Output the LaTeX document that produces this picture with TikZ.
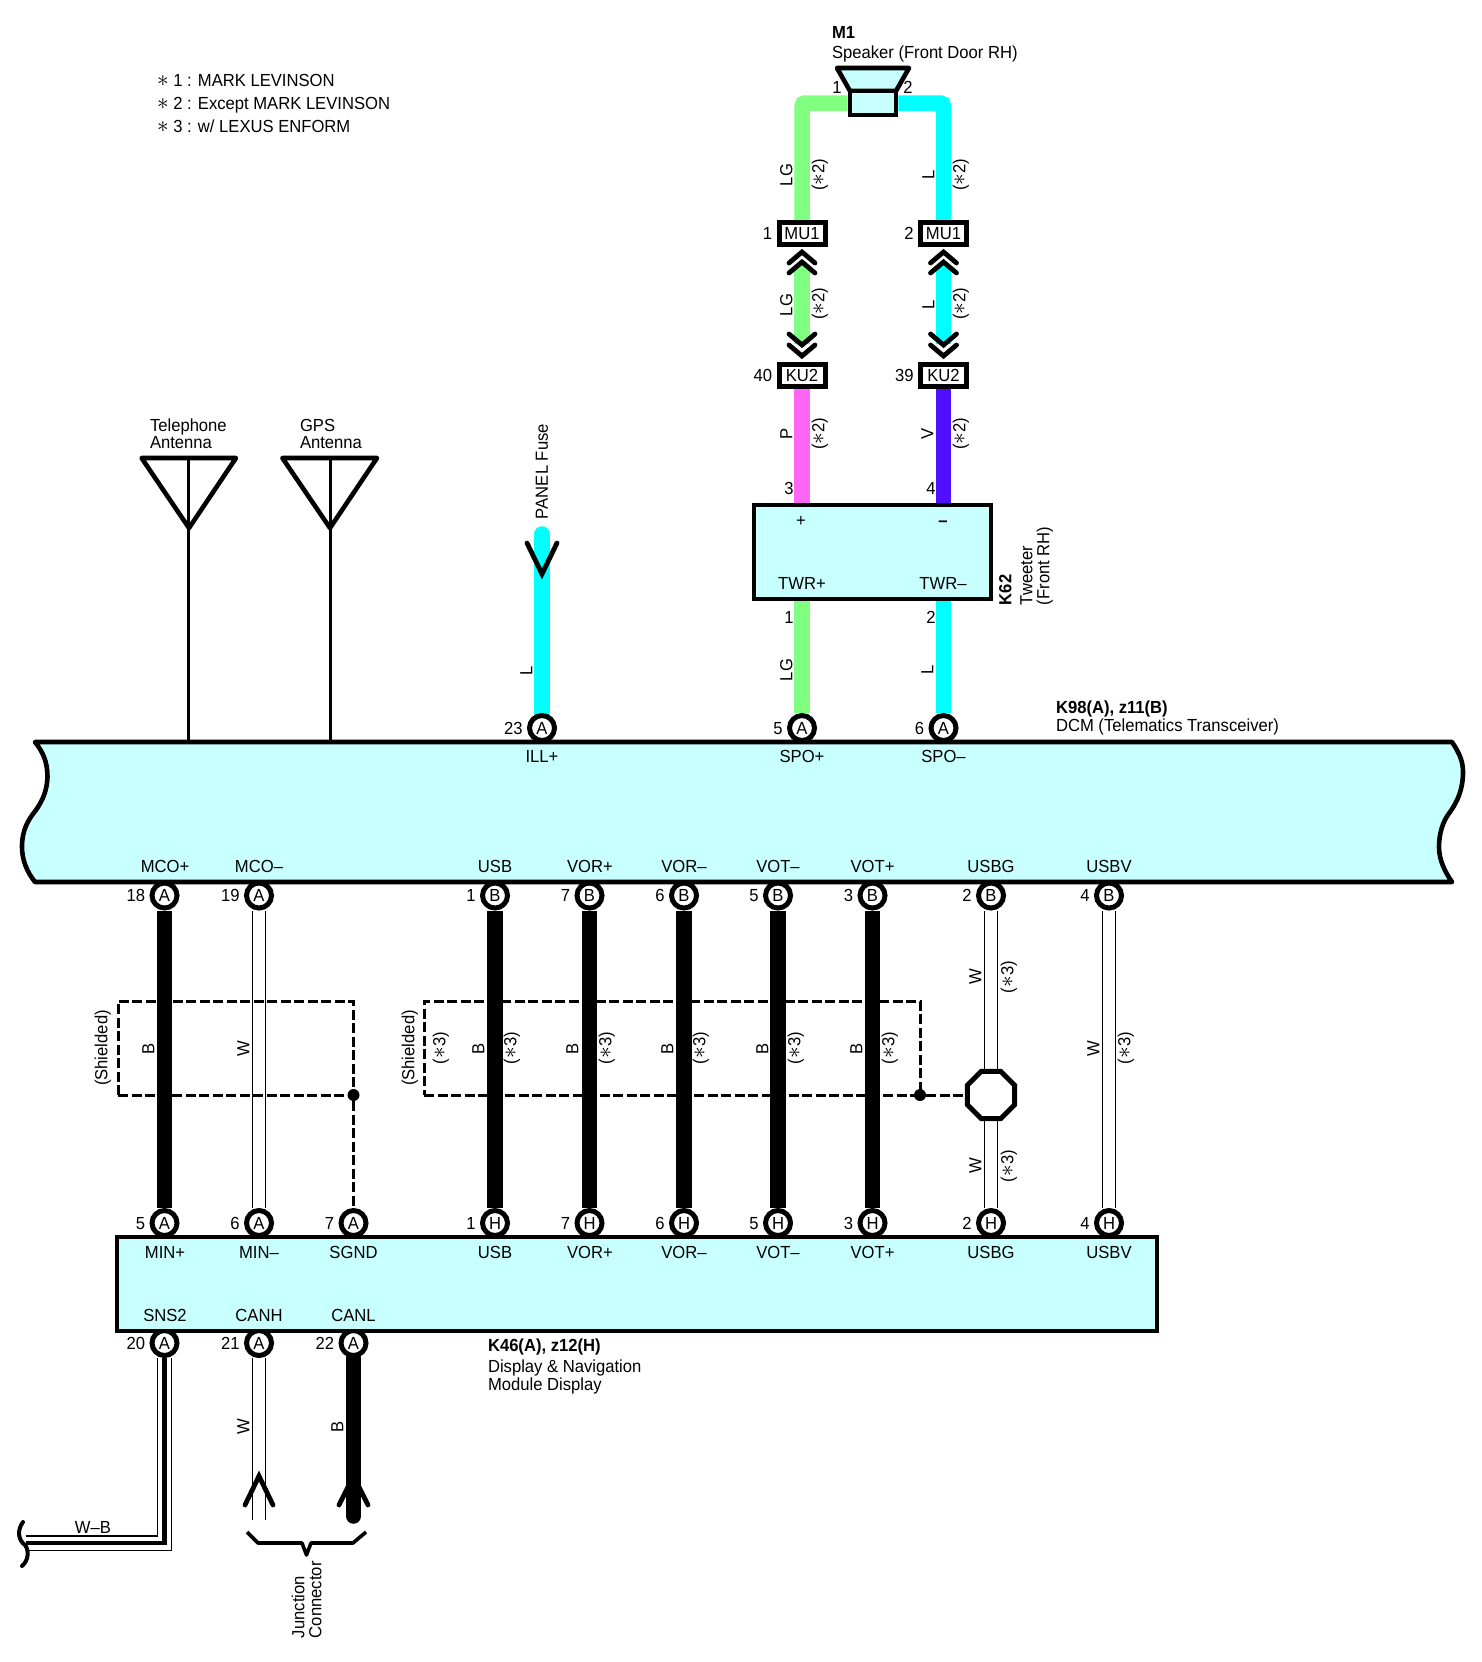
\documentclass[tikz,border=0pt]{standalone}
\usepackage{fontspec}
\usepackage{graphicx}
\setmainfont[FakeStretch=0.95]{Liberation Sans}
\usetikzlibrary{shapes.geometric,backgrounds}
\definecolor{modfill}{HTML}{C8FFFF}
\definecolor{wireLG}{HTML}{80FF80}
\definecolor{wireL}{HTML}{00FFFF}
\definecolor{wireP}{HTML}{FF66F5}
\definecolor{wireV}{HTML}{5010FF}
\newcommand\wfont{\fontsize{17.5pt}{19pt}\selectfont}
\newcommand\st{\scalebox{1.35}{\ensuremath{\ast}}}
\newcounter{labn}
\tikzset{
  txt/.style={font=\wfont,inner sep=0pt,outer sep=0pt,text height=12.5pt,text depth=0pt,align=left},
  pinnode/.style={circle,draw=black,fill=white,line width=5pt,minimum size=25pt,inner sep=0pt,font=\wfont,text height=12.5pt,text depth=0pt},
  modbox/.style={rectangle,draw=black,fill=modfill,line width=4.6pt,inner sep=0pt},
  conbox/.style={rectangle,draw=black,fill=white,line width=5pt,inner sep=0pt,minimum width=46pt,minimum height=22pt,font=\wfont,text height=12.5pt,text depth=0pt},
  shieldbox/.style={rectangle,draw=black,line width=3pt,dash pattern=on 10pt off 3.5pt,inner sep=0pt},
  shieldline/.style={draw=black,line width=3pt,dash pattern=on 10pt off 3.5pt},
  jdot/.style={circle,fill=black,minimum size=12pt,inner sep=0pt},
  colwire/.style={line width=15.5pt,rounded corners=3pt,color=#1},
  blackwire/.style={line width=15.5pt,color=black},
  whitewire/.style={line width=1.3pt,double=white,double distance=11.8pt,color=black},
  chev/.style={draw=black,line width=4.8pt,line cap=round,line join=miter},
  thickline/.style={draw=black,line width=4.6pt,line join=round},
  antline/.style={draw=black,line width=3pt},
}
\newcommand\wpin[5]{%
  \node[pinnode] (#1) at (#2,#3) {#4};
  \node[txt,anchor=east] (#1n) at ([xshift=-19.5pt]#1.center) {#5};}
\newcommand\lab[3]{\stepcounter{labn}\node[txt] (t\thelabn) at (#1,#2) {#3};}
\newcommand\llab[3]{\stepcounter{labn}\node[txt,anchor=west] (t\thelabn) at (#1,#2) {#3};}
\newcommand\rlab[3]{\stepcounter{labn}\node[txt,rotate=90] (t\thelabn) at (#1,#2) {#3};}
\newcommand\rblab[3]{\stepcounter{labn}\node[txt,rotate=90,anchor=west] (t\thelabn) at (#1,#2) {#3};}
\newcommand\chevup[2]{\draw[chev] (#1-13,#2+11) -- (#1,#2) -- (#1+13,#2+11);}
\newcommand\chevdn[2]{\draw[chev] (#1-13,#2-11) -- (#1,#2) -- (#1+13,#2-11);}
\begin{document}
\begin{tikzpicture}[x=1pt,y=-1pt]
\useasboundingbox (0,0) rectangle (1482,1662);
% legend
\llab{157}{80}{\st\ 1 : MARK LEVINSON}
\llab{157}{103}{\st\ 2 : Except MARK LEVINSON}
\llab{157}{126}{\st\ 3 : w/ LEXUS ENFORM}
% speaker
\llab{832}{32}{\textbf{M1}}
\llab{832}{52}{Speaker (Front Door RH)}
\draw[thickline,fill=modfill] (837,68) -- (909,68) -- (896,91) -- (850,91) -- cycle;
\node[modbox,minimum width=46pt,minimum height=24pt] (spk) at (873,103) {};
\lab{837}{87}{1}
\lab{908}{87}{2}
% inline connectors
\node[conbox] (mu1a) at (802,233.5) {MU1};
\node[conbox] (mu1b) at (943.5,233.5) {MU1};
\node[conbox] (ku2a) at (802,375) {KU2};
\node[conbox] (ku2b) at (943.5,375) {KU2};
\node[txt,anchor=east] (mu1an) at ([xshift=-30pt]mu1a.center) {1};
\node[txt,anchor=east] (mu1bn) at ([xshift=-30pt]mu1b.center) {2};
\node[txt,anchor=east] (ku2an) at ([xshift=-30pt]ku2a.center) {40};
\node[txt,anchor=east] (ku2bn) at ([xshift=-30pt]ku2b.center) {39};
\chevup{802}{252}\chevup{802}{262}
\chevup{943.5}{252}\chevup{943.5}{262}
\chevdn{802}{345}\chevdn{802}{356}
\chevdn{943.5}{345}\chevdn{943.5}{356}
\rlab{786}{175}{LG}\rlab{818}{175}{(\st2)}
\rlab{928}{175}{L}\rlab{959}{175}{(\st2)}
\rlab{786}{305}{LG}\rlab{818}{304}{(\st2)}
\rlab{928}{305}{L}\rlab{959}{304}{(\st2)}
\rlab{786}{434}{P}\rlab{818}{434}{(\st2)}
\rlab{927}{434}{V}\rlab{959}{434}{(\st2)}
% tweeter
\node[modbox,minimum width=237pt,minimum height=94pt] (k62) at (872.5,552) {};
\lab{789}{488}{3}\lab{931}{488}{4}
\lab{801}{520}{+}\lab{943}{520}{\textbf{–}}
\lab{802}{583}{TWR+}\lab{943}{583}{TWR–}
\lab{789}{617}{1}\lab{931}{617}{2}
\rlab{786}{670}{LG}\rlab{927}{670}{L}
\rblab{1005}{605}{\textbf{K62}}
\rblab{1026}{605}{Tweeter}
\rblab{1043}{605}{(Front RH)}
% antennas
\draw[thickline] (141.6,458) -- (236,458) -- (189,528) -- cycle;
\draw[thickline] (282.4,458) -- (377,458) -- (330,528) -- cycle;
\coordinate (ant1) at (188.5,458);
\coordinate (ant2) at (330,458);
\llab{150}{425}{Telephone}\llab{150}{442}{Antenna}
\llab{300}{425}{GPS}\llab{300}{442}{Antenna}
% panel fuse
\rblab{541.5}{519}{PANEL Fuse}
\coordinate (fuse) at (542,534);
\rlab{526}{671}{L}
% top module pins
\wpin{p23}{542}{728}{A}{23}
\wpin{p5a}{802}{728}{A}{5}
\wpin{p6a}{943.5}{728}{A}{6}
\wpin{m18}{164.5}{895.5}{A}{18}
\wpin{m19}{259}{895.5}{A}{19}
\wpin{b1}{495}{895.5}{B}{1}
\wpin{b7}{589.5}{895.5}{B}{7}
\wpin{b6}{684}{895.5}{B}{6}
\wpin{b5}{778}{895.5}{B}{5}
\wpin{b3}{872.5}{895.5}{B}{3}
\wpin{b2}{991}{895.5}{B}{2}
\wpin{b4}{1109}{895.5}{B}{4}
% bus module
\draw[thickline,fill=modfill] (35,742) -- (1452,742)
  .. controls (1460,754) and (1463,762) .. (1463,772)
  .. controls (1463,790) and (1457,802) .. (1450,812)
  .. controls (1442,822) and (1439,835) .. (1439,847)
  .. controls (1439,860) and (1445,872) .. (1452,882)
  -- (35,882)
  .. controls (27,872) and (22,860) .. (22,847)
  .. controls (22,830) and (28,820) .. (36,810)
  .. controls (43,800) and (47,790) .. (47.5,777)
  .. controls (47.5,762) and (43,752) .. (35,742) -- cycle;
\coordinate (busN) at (0,742);
\lab{542}{756}{ILL+}\lab{802}{756}{SPO+}\lab{943.5}{756}{SPO–}
\llab{1056}{707}{\textbf{K98(A), z11(B)}}
\llab{1056}{725}{DCM (Telematics Transceiver)}
\lab{165}{866}{MCO+}\lab{259}{866}{MCO–}
\lab{495}{866}{USB}\lab{590}{866}{VOR+}\lab{684}{866}{VOR–}
\lab{778}{866}{VOT–}\lab{872.5}{866}{VOT+}\lab{991}{866}{USBG}\lab{1109}{866}{USBV}
% display module pins
\wpin{n5}{164.5}{1223}{A}{5}
\wpin{n6}{259}{1223}{A}{6}
\wpin{n7}{353.5}{1223}{A}{7}
\wpin{h1}{495}{1223}{H}{1}
\wpin{h7}{589.5}{1223}{H}{7}
\wpin{h6}{684}{1223}{H}{6}
\wpin{h5}{778}{1223}{H}{5}
\wpin{h3}{872.5}{1223}{H}{3}
\wpin{h2}{991}{1223}{H}{2}
\wpin{h4}{1109}{1223}{H}{4}
\wpin{s20}{164.5}{1343}{A}{20}
\wpin{s21}{259}{1343}{A}{21}
\wpin{s22}{353.5}{1343}{A}{22}
\node[modbox,minimum width=1040pt,minimum height=94pt] (k46) at (637,1284) {};
\lab{165}{1252}{MIN+}\lab{259}{1252}{MIN–}\lab{353.5}{1252}{SGND}
\lab{495}{1252}{USB}\lab{590}{1252}{VOR+}\lab{684}{1252}{VOR–}
\lab{778}{1252}{VOT–}\lab{872.5}{1252}{VOT+}\lab{991}{1252}{USBG}\lab{1109}{1252}{USBV}
\lab{165}{1315}{SNS2}\lab{259}{1315}{CANH}\lab{353.5}{1315}{CANL}
\llab{488}{1345}{\textbf{K46(A), z12(H)}}
\llab{488}{1366}{Display \& Navigation}
\llab{488}{1384}{Module Display}
% shields
\node[shieldbox,minimum width=235pt,minimum height=94pt] (sh1) at (235.5,1048) {};
\node[shieldbox,minimum width=496pt,minimum height=94pt] (sh2) at (672,1048) {};
\node[jdot] (j1) at (353.5,1095) {};
\node[jdot] (j2) at (920,1095) {};
\node[regular polygon,regular polygon sides=8,draw=black,fill=white,line width=5pt,minimum size=51pt,inner sep=0pt] (oct) at (991,1095) {};
\draw[shieldline] (j1) -- (n7);
\draw[shieldline] (j2) -- (oct);
% lower wire labels
\rlab{101}{1048}{(Shielded)}\rlab{408}{1048}{(Shielded)}\rlab{439}{1048}{(\st3)}
\rlab{148}{1049}{B}\rlab{243}{1049}{W}
\rlab{478}{1049}{B}\rlab{510}{1048}{(\st3)}
\rlab{572}{1049}{B}\rlab{605}{1048}{(\st3)}
\rlab{667}{1049}{B}\rlab{699}{1048}{(\st3)}
\rlab{762}{1049}{B}\rlab{794}{1048}{(\st3)}
\rlab{856}{1049}{B}\rlab{888}{1048}{(\st3)}
\rlab{975}{977}{W}\rlab{1007}{977}{(\st3)}
\rlab{975}{1166}{W}\rlab{1007}{1166}{(\st3)}
\rlab{1093}{1049}{W}\rlab{1124}{1048}{(\st3)}
\rlab{243}{1427}{W}\rlab{337}{1427}{B}
\lab{93}{1527}{W–B}
\rblab{298}{1638}{Junction}
\rblab{315}{1638}{Connector}
% open ends
\coordinate (canhend) at (259,1520);
\coordinate (canlend) at (353.5,1516);
\coordinate (wbend) at (26,1543);
\draw[thickline,line width=3.6pt] (247,1532) -- (258,1543) -- (302,1543) -- (306.5,1555) -- (311,1543) -- (353,1543) -- (366,1532);
\draw[thickline,line width=4pt,line cap=round] (23,1522) .. controls (17,1530) and (18,1540) .. (25,1545) .. controls (29,1550) and (29,1560) .. (22,1566);
% wires
\begin{scope}[on background layer]
\draw[antline] (ant1) -- (ant1 |- busN);
\draw[antline] (ant2) -- (ant2 |- busN);
\draw[colwire=wireLG] (mu1a.north) |- (spk.west);
\draw[colwire=wireL] (mu1b.north) |- (spk.east);
\draw[colwire=wireLG,shorten <=18pt,shorten >=18pt] (mu1a.south) -- (ku2a.north);
\draw[colwire=wireL,shorten <=18pt,shorten >=18pt] (mu1b.south) -- (ku2b.north);
\draw[colwire=wireP] (ku2a.south) -- (ku2a.south |- k62.north);
\draw[colwire=wireV] (ku2b.south) -- (ku2b.south |- k62.north);
\draw[colwire=wireLG] (k62.south -| p5a) -- (p5a);
\draw[colwire=wireL] (k62.south -| p6a) -- (p6a);
\draw[colwire=wireL,line cap=round,rounded corners=0pt] (p23) -- (fuse);
\draw[blackwire] (m18) -- (n5);
\draw[whitewire] (m19) -- (n6);
\draw[blackwire] (b1) -- (h1);
\draw[blackwire] (b7) -- (h7);
\draw[blackwire] (b6) -- (h6);
\draw[blackwire] (b5) -- (h5);
\draw[blackwire] (b3) -- (h3);
\draw[whitewire] (b2) -- (oct);
\draw[whitewire] (oct) -- (h2);
\draw[whitewire] (b4) -- (h4);
\draw[whitewire] (s21) -- (canhend);
\draw[blackwire,line cap=round] (s22) -- (canlend);
\draw[line width=15.6pt,black] (s20) |- (wbend);
\draw[line width=13pt,white] (s20) |- (wbend);
\draw[line width=4.4pt,black] (s20) |- (wbend);
\end{scope}
\draw[chev] (527,543) -- (542,574) -- (557,543);
\draw[chev] (245,1505) -- (259,1476) -- (273,1505);
\draw[chev] (339,1505) -- (353.5,1476) -- (368,1505);
\end{tikzpicture}
\end{document}
